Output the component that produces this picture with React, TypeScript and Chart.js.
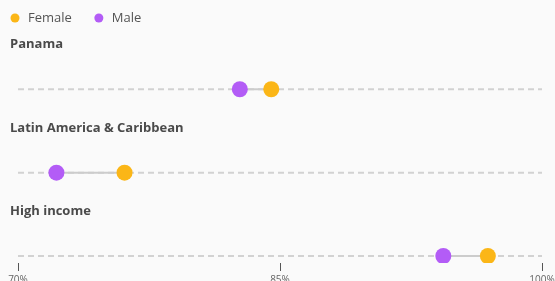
import React, { useEffect, useRef } from "react";
import { Chart, registerables } from "chart.js";

Chart.register(...registerables);

const categories = ["Panama", "Latin America & Caribbean", "High income"];
const femaleValues = [84.5, 76.1, 96.9];
const maleValues = [82.7, 72.2, 94.35];
const xTickValues = [70, 85, 100];
const seriesNames = ["Female", "Male"];

const FEMALE_COLOR = "#FBB617";
const MALE_COLOR = "#B35CF6";
const FONT = "'Open Sans', 'Noto Sans', sans-serif";

export default function App() {
  const ref = useRef<HTMLCanvasElement | null>(null);

  useEffect(() => {
    const canvas = ref.current;
    if (!canvas) return;
    const n = categories.length;
    const rowOf = (i: number) => n - 1 - i;

    const datasets: any[] = [];
    categories.forEach((c, i) => {
      datasets.push({
        type: "line",
        label: "guide-" + c,
        data: [
          { x: xTickValues[0], y: rowOf(i) },
          { x: xTickValues[xTickValues.length - 1], y: rowOf(i) },
        ],
        borderColor: "#d2d2d2",
        borderWidth: 2,
        borderDash: [6, 4],
        pointRadius: 0,
        order: 5,
      });
      datasets.push({
        type: "line",
        label: "link-" + c,
        data: [
          { x: maleValues[i], y: rowOf(i) },
          { x: femaleValues[i], y: rowOf(i) },
        ],
        borderColor: "#cccccc",
        borderWidth: 2,
        pointRadius: 0,
        order: 4,
      });
    });
    datasets.push({
      type: "scatter",
      label: seriesNames[0],
      data: femaleValues.map((v, i) => ({ x: v, y: rowOf(i) })),
      backgroundColor: FEMALE_COLOR,
      borderWidth: 0,
      pointRadius: 8,
      pointHoverRadius: 8,
      order: 1,
    });
    datasets.push({
      type: "scatter",
      label: seriesNames[1],
      data: maleValues.map((v, i) => ({ x: v, y: rowOf(i) })),
      backgroundColor: MALE_COLOR,
      borderWidth: 0,
      pointRadius: 8,
      pointHoverRadius: 8,
      order: 1,
    });

    const bgPlugin = {
      id: "bg",
      beforeDraw(chart: any) {
        const ctx = chart.ctx;
        ctx.save();
        ctx.fillStyle = "#fafafa";
        ctx.fillRect(0, 0, chart.width, chart.height);
        ctx.restore();
      },
    };

    const labelsPlugin = {
      id: "rowLabels",
      afterDraw(chart: any) {
        const ctx = chart.ctx;
        const y = chart.scales.y;
        ctx.save();
        // legend
        ctx.font = `13px ${FONT}`;
        ctx.textBaseline = "middle";
        ctx.textAlign = "left";
        let lx = 15;
        const colors = [FEMALE_COLOR, MALE_COLOR];
        seriesNames.forEach((name, k) => {
          ctx.fillStyle = colors[k];
          ctx.beginPath();
          ctx.arc(lx, 18, 4.5, 0, Math.PI * 2);
          ctx.fill();
          ctx.fillStyle = "#555555";
          ctx.fillText(name, lx + 13, 18.5);
          lx += 13 + ctx.measureText(name).width + 27;
        });
        // row titles
        ctx.font = `bold 13px ${FONT}`;
        ctx.fillStyle = "#4a4a4a";
        ctx.textBaseline = "alphabetic";
        categories.forEach((c, i) => {
          const py = y.getPixelForValue(rowOf(i));
          ctx.fillText(c, 10, py - 41);
        });
        ctx.restore();
      },
    };

    const chart = new Chart(canvas, {
      type: "scatter",
      data: { datasets },
      options: {
        animation: false,
        responsive: false,
        maintainAspectRatio: false,
        layout: { padding: { left: 18, right: 13, top: 30, bottom: 0 } },
        plugins: {
          legend: { display: false },
          tooltip: { enabled: false },
        },
        scales: {
          x: {
            type: "linear",
            min: xTickValues[0],
            max: xTickValues[xTickValues.length - 1],
            afterBuildTicks: (scale: any) => {
              scale.ticks = xTickValues.map((v) => ({ value: v }));
            },
            afterFit: (scale: any) => {
              scale.paddingLeft = 0;
              scale.paddingRight = 0;
            },
            ticks: {
              callback: (v: any) => v + "%",
              color: "#666666",
              font: { size: 10, family: FONT },
              padding: 3,
              maxRotation: 0,
            },
            grid: {
              drawOnChartArea: false,
              drawTicks: true,
              tickLength: 8,
              color: "#555555",
            },
            border: { display: false },
          },
          y: {
            type: "linear",
            display: false,
            min: -0.084,
            max: 2.711,
          },
        },
      },
      plugins: [bgPlugin, labelsPlugin],
    });
    return () => chart.destroy();
  }, []);

  return (
    <div
      style={{
        position: "absolute",
        left: 0,
        top: 0,
        width: 555,
        height: 281,
        overflow: "hidden",
        background: "#fafafa",
      }}
    >
      <canvas ref={ref} width={555} height={289} style={{ display: "block" }} />
    </div>
  );
}
